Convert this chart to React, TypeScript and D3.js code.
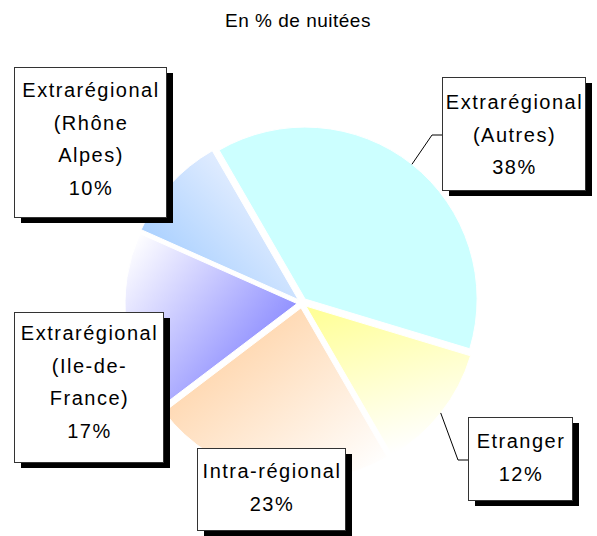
import React from 'react';
import * as d3 from 'd3';

// data, clockwise from the top-right slice
const categories = ['Extrarégional (Autres)', 'Etranger', 'Intra-régional', 'Extrarégional (Ile-de-France)', 'Extrarégional (Rhône Alpes)'];
const shares = [38, 12, 23, 17, 10];
const labelLines = [
    ['Extrarégional', '(Autres)'],
    ['Etranger'],
    ['Intra-régional'],
    ['Extrarégional', '(Ile-de-', 'France)'],
    ['Extrarégional', '(Rhône', 'Alpes)'],
];
const title = 'En % de nuitées';

// fills: [from, to] and gradient vector
const sliceFills = [
    { from: '#CCFFFF', to: '#CCFFFF', x1: 0, y1: 0, x2: 1, y2: 1 },
    { from: '#FFFF99', to: '#FFFFFF', x1: 0.2, y1: 0, x2: 0.5, y2: 1 },
    { from: '#FFCC99', to: '#FFFFFF', x1: 0, y1: 0.1, x2: 0.9, y2: 1 },
    { from: '#7070FF', to: '#FFFFFF', x1: 1, y1: 0.9, x2: 0, y2: 0.1 },
    { from: '#99C8FF', to: '#F4F6FF', x1: 0, y1: 0.9, x2: 0.9, y2: 0.1 },
];

// label box layout (same order as the data)
const boxes = [
    { x: 442, y: 77, w: 143, h: 113, pad: 25, leader: true },
    { x: 468, y: 417, w: 104, h: 83, pad: 24, leader: true },
    { x: 197, y: 448, w: 148, h: 82, pad: 23, leader: false },
    { x: 14, y: 312, w: 149, h: 150, pad: 21, leader: false },
    { x: 14, y: 67, w: 152, h: 150, pad: 23, leader: false },
];

const W = 597;
const H = 536;
const cx = 302;
const cy = 303;
const radius = 172;
const explode = 5;
const lineH = 32.7;
const font = '"Liberation Sans", Arial, sans-serif';

const App = () => {
    const pie = d3.pie<number>()
        .sort(null)
        .startAngle(-30 * Math.PI / 180)
        .endAngle(330 * Math.PI / 180)
        .value(d => d);
    const slices = pie(shares);
    const arc = d3.arc<d3.PieArcDatum<number>>()
        .innerRadius(0)
        .outerRadius(radius);

    return (
        <svg width={W} height={H} style={{ position: 'absolute', left: 0, top: 0, background: '#fff' }}>
            <defs>
                {sliceFills.map((f, i) => (
                    <linearGradient key={i} id={`g${i}`} x1={f.x1} y1={f.y1} x2={f.x2} y2={f.y2}>
                        <stop offset="0" stopColor={f.from} />
                        <stop offset="1" stopColor={f.to} />
                    </linearGradient>
                ))}
            </defs>

            <text x={298} y={27} textAnchor="middle" fontFamily={font} fontSize={19}
                letterSpacing={0.5} fill="#000">{title}</text>

            <g transform={`translate(${cx},${cy})`}>
                {slices.map((s, i) => {
                    const mid = (s.startAngle + s.endAngle) / 2;
                    const dx = Math.sin(mid) * explode;
                    const dy = -Math.cos(mid) * explode;
                    return (
                        <path key={categories[i]} d={arc(s) || ''} transform={`translate(${dx},${dy})`}
                            fill={`url(#g${i})`} stroke="#fff" strokeWidth={1} />
                    );
                })}
            </g>

            {slices.map((s, i) => {
                const b = boxes[i];
                const mid = (s.startAngle + s.endAngle) / 2;
                const r0 = radius + explode;
                const px = cx + Math.sin(mid) * r0;
                const py = cy - Math.cos(mid) * r0;
                const ly = b.y + b.h / 2 + 1.5;
                const lines = [...labelLines[i], `${shares[i]}%`];
                return (
                    <g key={`lab${i}`}>
                        {b.leader && (
                            <polyline points={`${px},${py} ${b.x - 10},${ly} ${b.x},${ly}`}
                                fill="none" stroke="#000" strokeWidth={1} />
                        )}
                        <rect x={b.x + 7} y={b.y + 6} width={b.w} height={b.h} fill="#000" />
                        <rect x={b.x + 0.5} y={b.y + 0.5} width={b.w} height={b.h} fill="#fff" stroke="#333" strokeWidth={1} />
                        {lines.map((t, k) => (
                            <text key={k} x={b.x + b.w / 2 + 1} y={b.y + b.pad + k * lineH + 7} textAnchor="middle"
                                fontFamily={font} fontSize={20} letterSpacing={1.5} fill="#000">{t}</text>
                        ))}
                    </g>
                );
            })}
        </svg>
    );
};

export default App;
